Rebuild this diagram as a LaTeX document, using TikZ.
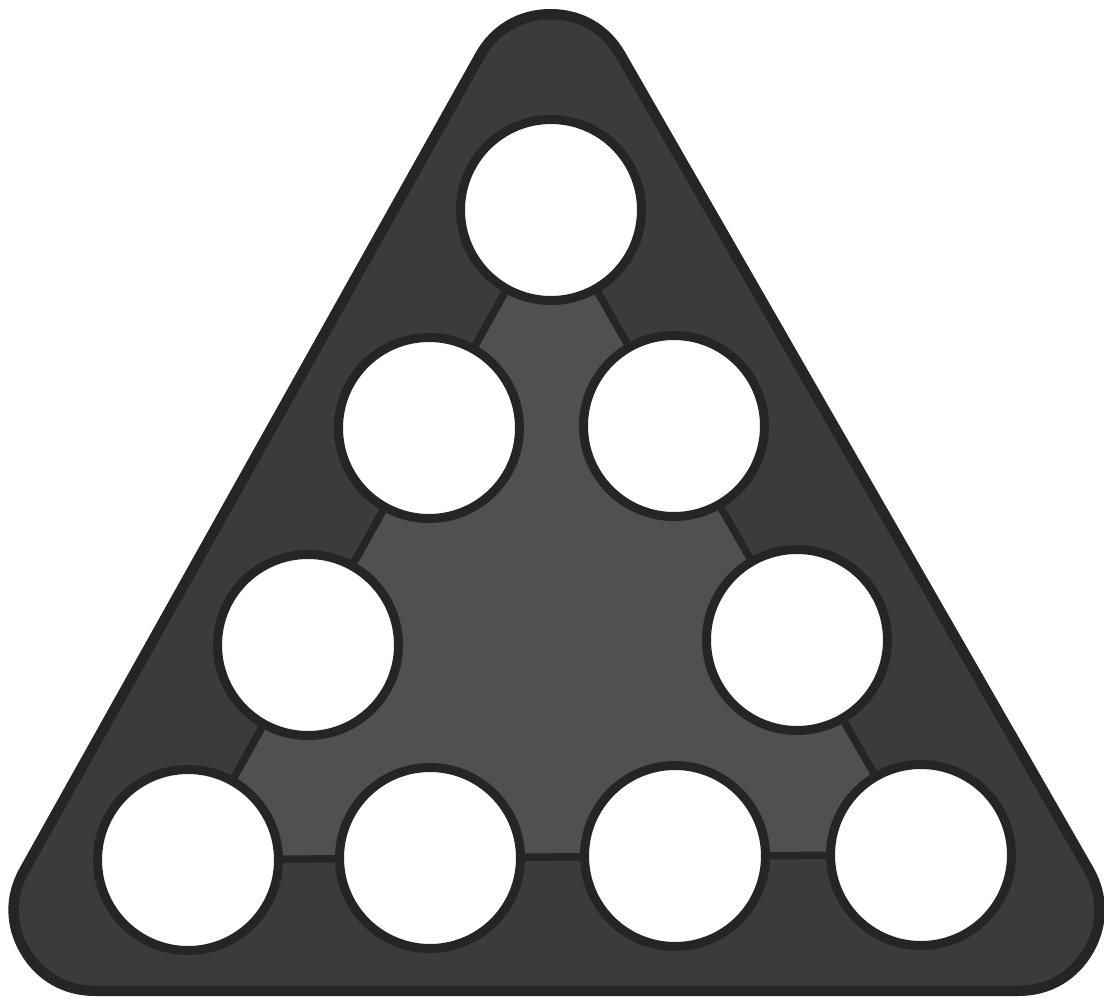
\documentclass[tikz,border=0pt]{standalone}
\begin{document}
\begin{tikzpicture}[x=1pt,y=-1pt]
\definecolor{rimcol}{HTML}{252525}
\definecolor{platecol}{HTML}{3B3B3B}
\definecolor{innercol}{HTML}{505050}
\tikzset{
  hole/.style={circle, draw=rimcol, fill=white, line width=9pt, minimum size=181pt, inner sep=0pt},
  link/.style={draw=rimcol, line width=7.5pt}
}
\fill[white] (0,0) rectangle (1104,999);
\useasboundingbox (0,0) rectangle (1104,999);
% corner centres of the rounded triangle
\coordinate (ca) at (550.5,95);
\coordinate (cl) at (94.7,910);
\coordinate (cr) at (1018.6,910);
\draw[draw=rimcol, fill=rimcol, line width=172pt, line join=round] (ca) -- (cl) -- (cr) -- cycle;
\draw[draw=platecol, fill=platecol, line width=151pt, line join=round] (ca) -- (cl) -- (cr) -- cycle;
% hole centres
\coordinate (t) at (551,210);
\coordinate (l2) at (429,428);
\coordinate (r2) at (674,426);
\coordinate (l3) at (308,645);
\coordinate (r3) at (797,640);
\coordinate (b1) at (188,860);
\coordinate (b2) at (430,858);
\coordinate (b3) at (675,856);
\coordinate (b4) at (921,855);
% inner lighter region
\fill[innercol] (t) -- (r2) -- (r3) -- (b4) -- (b3) -- (b2) -- (b1) -- (l3) -- (l2) -- cycle;
% connectors
\draw[link] (t) -- (r2);
\draw[link] (r2) -- (r3);
\draw[link] (r3) -- (b4);
\draw[link] (b4) -- (b3);
\draw[link] (b3) -- (b2);
\draw[link] (b2) -- (b1);
\draw[link] (b1) -- (l3);
\draw[link] (l3) -- (l2);
\draw[link] (l2) -- (t);
% holes
\node[hole] (ht) at (t) {};
\node[hole] (hl2) at (l2) {};
\node[hole] (hr2) at (r2) {};
\node[hole] (hl3) at (l3) {};
\node[hole] (hr3) at (r3) {};
\node[hole] (hb1) at (b1) {};
\node[hole] (hb2) at (b2) {};
\node[hole] (hb3) at (b3) {};
\node[hole] (hb4) at (b4) {};
\end{tikzpicture}
\end{document}
